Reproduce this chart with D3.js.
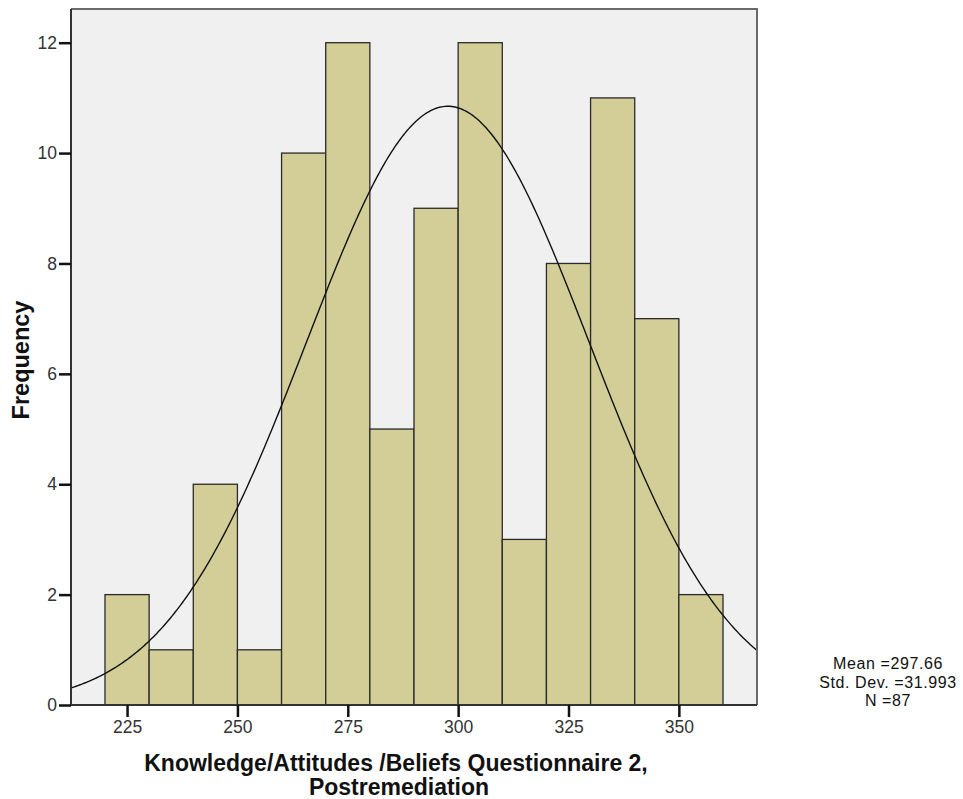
<!DOCTYPE html>
<html><head><meta charset="utf-8">
<script src="https://cdn.jsdelivr.net/npm/d3@7"></script>
<style>body{margin:0;background:#fff}svg{display:block}text{font-family:"Liberation Sans",Arial,sans-serif}</style>
</head><body>
<script>
const binStarts = [220,230,240,250,260,270,280,290,300,310,320,330,340,350];
const counts    = [2,1,4,1,10,12,5,9,12,3,8,11,7,2];
const binWidth = 10;
const xTicks = [225,250,275,300,325,350];
const yTicks = [0,2,4,6,8,10,12];
const stats = {mean:297.66, sd:31.993, n:87};
const statLines = ["Mean =297.66","Std. Dev. =31.993","N =87"];

const W=963,H=799;
const L=71,R=757,T=9,B=705;
const svg=d3.select("body").append("svg").attr("width",W).attr("height",H);
const x=d3.scaleLinear().domain([212.3,367.7]).range([L,R]);
const y=d3.scaleLinear().domain([0,12]).range([B,42.7]);

svg.append("rect").attr("x",L).attr("y",T).attr("width",R-L).attr("height",B-T).attr("fill","#f0f0f0");

svg.selectAll("rect.bar").data(binStarts).enter().append("rect").attr("class","bar")
  .attr("x",d=>x(d)).attr("width",d=>x(d+binWidth)-x(d))
  .attr("y",(d,i)=>y(counts[i])).attr("height",(d,i)=>y(0)-y(counts[i]))
  .attr("fill","#d3ce97").attr("stroke","#2a2a2a").attr("stroke-width",1.3);

// normal curve from the reported stats
const pts=d3.range(0,401).map(i=>{const v=212.3+i*(367.7-212.3)/400;
  const z=(v-stats.mean)/stats.sd;
  return [v, stats.n*binWidth/(stats.sd*Math.sqrt(2*Math.PI))*Math.exp(-0.5*z*z)];});
svg.append("path").attr("d",d3.line().x(d=>x(d[0])).y(d=>y(d[1]))(pts))
  .attr("fill","none").attr("stroke","#111").attr("stroke-width",1.4);

// frame
svg.append("path").attr("d",`M${L},${T}H${R}V${B}`).attr("fill","none").attr("stroke","#6a6a6a").attr("stroke-width",2);

const ya=svg.append("g").attr("transform",`translate(${L},0)`)
  .call(d3.axisLeft(y).tickValues(yTicks).tickSize(12).tickPadding(2).tickSizeOuter(0));
ya.select(".domain").attr("stroke","#333").attr("stroke-width",2).attr("d",`M0,${T}V${B}`);
ya.selectAll(".tick line").attr("stroke","#111").attr("stroke-width",2.5);
ya.selectAll(".tick text").attr("font-size",17.5).attr("fill","#333").attr("font-family","Liberation Sans, Arial, sans-serif");

const xa=svg.append("g").attr("transform",`translate(0,${B})`)
  .call(d3.axisBottom(x).tickValues(xTicks).tickSize(12).tickPadding(4).tickSizeOuter(0));
xa.select(".domain").attr("stroke","#333").attr("stroke-width",2).attr("d",`M${L},0H${R}`);
xa.selectAll(".tick line").attr("stroke","#111").attr("stroke-width",2.5);
xa.selectAll(".tick text").attr("font-size",17.5).attr("fill","#333").attr("font-family","Liberation Sans, Arial, sans-serif");

svg.append("text").attr("transform","translate(29,360) rotate(-90)").attr("text-anchor","middle")
  .attr("font-size",23.5).attr("font-weight","bold").attr("fill","#111").text("Frequency");
svg.append("text").attr("x",396).attr("y",771).attr("text-anchor","middle")
  .attr("font-size",23).attr("font-weight","bold").attr("fill","#111").text("Knowledge/Attitudes /Beliefs Questionnaire 2,");
svg.append("text").attr("x",399).attr("y",795).attr("text-anchor","middle")
  .attr("font-size",23).attr("font-weight","bold").attr("fill","#111").text("Postremediation");

svg.selectAll("text.stat").data(statLines).enter().append("text").attr("class","stat")
  .attr("x",888).attr("y",(d,i)=>669+i*18.5).attr("text-anchor","middle")
  .attr("font-size",16).attr("letter-spacing",0.6).attr("fill","#111").text(d=>d);
</script>
</body></html>
